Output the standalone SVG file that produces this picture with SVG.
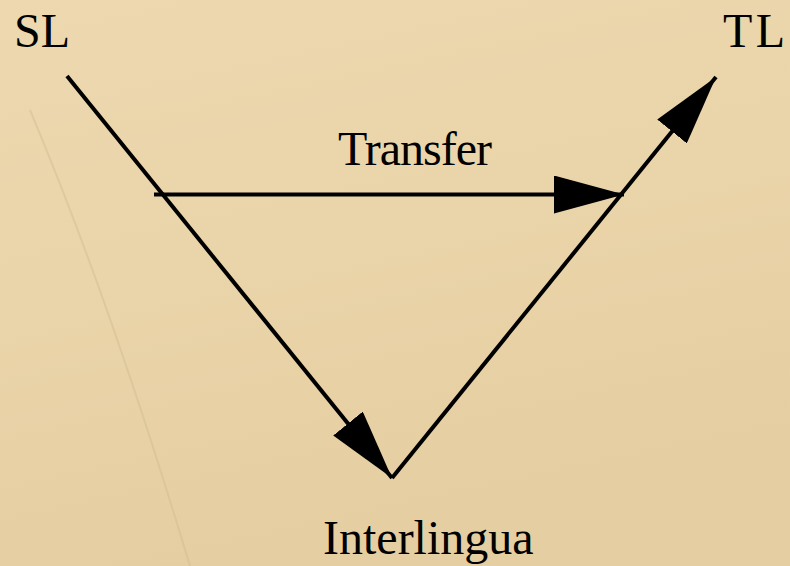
<svg xmlns="http://www.w3.org/2000/svg" width="790" height="566" viewBox="0 0 790 566">
<defs>
<linearGradient id="bg" x1="0" y1="0" x2="0.3" y2="1">
<stop offset="0" stop-color="#EDD8B0"/>
<stop offset="0.5" stop-color="#EAD4A9"/>
<stop offset="1" stop-color="#E5CEA1"/>
</linearGradient>
<marker id="ah" viewBox="0 0 70 38" refX="70" refY="19" markerWidth="70" markerHeight="38" markerUnits="userSpaceOnUse" orient="auto">
<path d="M0,0 L70,19 L0,38 Z" fill="#000"/>
</marker>
<style>
.lbl{font-family:"Liberation Serif","Times New Roman",serif;font-size:48px;fill:#000}
.edge{stroke:#000;stroke-width:4;fill:none;stroke-linecap:butt}
</style>
</defs>
<rect width="790" height="566" fill="url(#bg)"/>
<path d="M30,110 Q110,300 190,566" stroke="#C9B48A" stroke-width="2" fill="none" opacity="0.35"/>
<g id="connectors">
<line class="edge" x1="67" y1="76" x2="392" y2="478" marker-end="url(#ah)"/>
<line class="edge" x1="392" y1="478" x2="716" y2="77" marker-end="url(#ah)"/>
<line class="edge" x1="154" y1="194.5" x2="624" y2="194.5" marker-end="url(#ah)"/>
</g>
<g id="node-sl"><text class="lbl" x="14" y="47">SL</text></g>
<g id="node-tl"><text class="lbl" x="723" y="47" textLength="62">TL</text></g>
<g id="node-transfer"><text class="lbl" x="338" y="165" textLength="154">Transfer</text></g>
<g id="node-interlingua"><text class="lbl" x="323" y="554">Interlingua</text></g>
</svg>
